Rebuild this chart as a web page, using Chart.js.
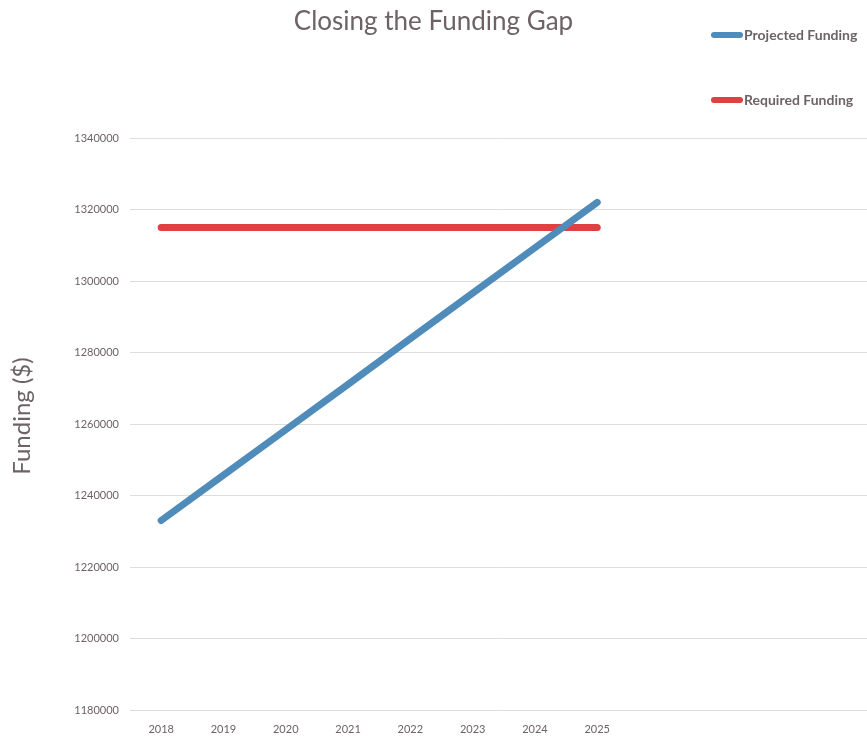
<!DOCTYPE html>
<html>
<head>
<meta charset="utf-8">
<script src="https://cdn.jsdelivr.net/npm/chart.js@4"></script>
<style>
  html, body { margin: 0; padding: 0; background: #ffffff; overflow: hidden; }
  #wrap { position: relative; width: 867px; height: 737px; }
</style>
</head>
<body>
<div id="wrap"><canvas id="c" width="867" height="737"></canvas></div>
<script>
const years = [2018, 2019, 2020, 2021, 2022, 2023, 2024, 2025];
const projectedFunding = [1233000, 1245700, 1258400, 1271100, 1283900, 1296600, 1309300, 1322000];
const requiredFunding = [1315000, 1315000, 1315000, 1315000, 1315000, 1315000, 1315000, 1315000];
const yTicks = [1180000, 1200000, 1220000, 1240000, 1260000, 1280000, 1300000, 1320000, 1340000];
const seriesNames = ['Projected Funding', 'Required Funding'];
const chartTitle = 'Closing the Funding Gap';
const yAxisTitle = 'Funding ($)';

const BLUE = 'rgb(80,140,185)';
const RED = 'rgb(221,65,65)';
const TEXT = '#6d6266';
const FONT = "Lato, 'Open Sans', 'Liberation Sans', sans-serif";

const overlay = {
  id: 'overlay',
  afterDraw(chart) {
    const ctx = chart.ctx;
    ctx.save();
    // title
    ctx.fillStyle = TEXT;
    ctx.font = "26px " + FONT;
    ctx.textAlign = 'center';
    ctx.textBaseline = 'middle';
    ctx.fillText(chartTitle, chart.width / 2, 22);
    // y axis title
    ctx.save();
    ctx.translate(22, 416);
    ctx.rotate(-Math.PI / 2);
    ctx.font = "24px " + FONT;
    ctx.fillText(yAxisTitle, 0, 0);
    ctx.restore();
    // legend
    const items = [[seriesNames[0], BLUE, 35], [seriesNames[1], RED, 100]];
    ctx.font = "bold 14px " + FONT;
    ctx.textAlign = 'left';
    for (const [name, col, y] of items) {
      ctx.strokeStyle = col;
      ctx.lineWidth = 6;
      ctx.lineCap = 'round';
      ctx.beginPath();
      ctx.moveTo(714, y);
      ctx.lineTo(740, y);
      ctx.stroke();
      ctx.fillStyle = TEXT;
      ctx.fillText(name, 744, y);
    }
    ctx.restore();
  }
};

new Chart(document.getElementById('c'), {
  type: 'line',
  data: {
    datasets: [
      {
        label: seriesNames[0],
        data: years.map((y, i) => ({ x: y, y: projectedFunding[i] })),
        borderColor: BLUE,
        backgroundColor: BLUE,
        borderWidth: 7,
        borderCapStyle: 'round',
        pointRadius: 0,
        tension: 0
      },
      {
        label: seriesNames[1],
        data: years.map((y, i) => ({ x: y, y: requiredFunding[i] })),
        borderColor: RED,
        backgroundColor: RED,
        borderWidth: 7,
        borderCapStyle: 'round',
        pointRadius: 0,
        tension: 0
      }
    ]
  },
  options: {
    responsive: false,
    animation: false,
    layout: { padding: { top: 138, right: 0, bottom: 0, left: 0 } },
    plugins: {
      legend: { display: false },
      title: { display: false },
      tooltip: { enabled: false }
    },
    scales: {
      x: {
        type: 'linear',
        min: 2017.5,
        max: 2029.33,
        grid: { display: false, drawTicks: false },
        border: { display: false },
        afterBuildTicks: (s) => { s.ticks = years.map(v => ({ value: v })); },
        afterFit: (s) => { s.height = 27; },
        ticks: {
          padding: 13,
          maxRotation: 0,
          autoSkip: false,
          color: TEXT,
          font: { family: "'Liberation Sans Narrow', " + FONT, size: 11 },
          callback: (v) => String(v)
        }
      },
      y: {
        min: yTicks[0],
        max: yTicks[yTicks.length - 1],
        afterBuildTicks: (s) => { s.ticks = yTicks.map(v => ({ value: v })); },
        afterFit: (s) => { s.width = 130; },
        grid: { color: '#dedede', lineWidth: 1, drawTicks: false },
        border: { display: false },
        ticks: {
          padding: 11,
          color: TEXT,
          font: { family: "'Liberation Sans Narrow', " + FONT, size: 11 },
          callback: (v) => String(v)
        },
        title: { display: false }
      }
    }
  },
  plugins: [overlay]
});
</script>
</body>
</html>
